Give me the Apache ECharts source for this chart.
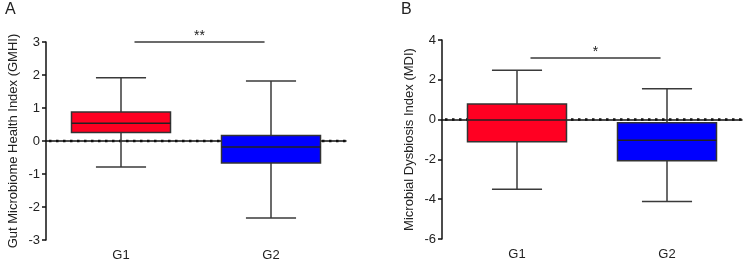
<!DOCTYPE html>
<html>
<head>
<meta charset="utf-8">
<script src="https://cdn.jsdelivr.net/npm/echarts@6/dist/echarts.min.js"></script>
<style>
html, body { margin: 0; padding: 0; background: #fff; }
#main { width: 744px; height: 262px; }
</style>
</head>
<body>
<div id="main"></div>
<script>
var categories = ['G1', 'G2'];
// [min, Q1, median, Q3, max]
var gmhiBoxes = [[-0.79, 0.26, 0.54, 0.88, 1.92], [-2.33, -0.67, -0.18, 0.17, 1.82]];
var mdiBoxes = [[-3.5, -1.11, -0.02, 0.79, 2.48], [-4.12, -2.07, -1.04, -0.16, 1.55]];
var boxColors = ['#ff0022', '#0000ff'];
// significance bars: [from category, to category, y value, label]
var gmhiSig = [[0.09, 0.957, 3.0, '**']];
var mdiSig = [[0.09, 0.957, 3.1, '*']];
var refLevel = [[0]];

var chart = echarts.init(document.getElementById('main'));
var font = 'Liberation Sans, Arial, sans-serif';

function renderBox(params, api) {
  var cat = api.value(0);
  var band = api.size([1, 0])[0];
  var x = api.coord([cat, 0])[0];
  var yMin = api.coord([cat, api.value(1)])[1];
  var yQ1 = api.coord([cat, api.value(2)])[1];
  var yMed = api.coord([cat, api.value(3)])[1];
  var yQ3 = api.coord([cat, api.value(4)])[1];
  var yMax = api.coord([cat, api.value(5)])[1];
  var hw = band * 0.33, cw = band * 0.167;
  var ln = { stroke: '#3a3a3a', lineWidth: 1.5 };
  return {
    type: 'group',
    children: [
      { type: 'line', shape: { x1: x, y1: yMax, x2: x, y2: yMin }, style: ln },
      { type: 'line', shape: { x1: x - cw, y1: yMax, x2: x + cw, y2: yMax }, style: ln },
      { type: 'line', shape: { x1: x - cw, y1: yMin, x2: x + cw, y2: yMin }, style: ln },
      { type: 'rect', shape: { x: x - hw, y: yQ3, width: hw * 2, height: yQ1 - yQ3 },
        style: { fill: boxColors[cat], stroke: '#333', lineWidth: 1.5 } },
      { type: 'line', shape: { x1: x - hw, y1: yMed, x2: x + hw, y2: yMed }, style: { stroke: '#222', lineWidth: 1.5 } }
    ]
  };
}

function renderSig(params, api) {
  var band = api.size([1, 0])[0];
  var y = api.coord([0, api.value(2)])[1];
  var x0 = api.coord([0, 0])[0] + api.value(0) * band;
  var x1 = api.coord([0, 0])[0] + api.value(1) * band;
  return {
    type: 'group',
    children: [
      { type: 'line', shape: { x1: x0, y1: y, x2: x1, y2: y }, style: { stroke: '#6b6b6b', lineWidth: 2 } },
      { type: 'text', x: (x0 + x1) / 2, y: y - 6,
        style: { text: api.value(3), fill: '#222', font: '14px ' + font, align: 'center', verticalAlign: 'middle' } }
    ]
  };
}

// dotted reference line at 0, drawn below the boxes
function renderRef(params, api) {
  var cs = params.coordSys;
  var y = api.coord([0, api.value(0)])[1];
  return {
    type: 'line',
    shape: { x1: cs.x + 3, y1: y, x2: cs.x + cs.width, y2: y },
    style: { stroke: '#111', lineWidth: 2.5, lineDash: [2.5, 4.5] }
  };
}

function boxData(arr) {
  return arr.map(function (b, i) { return [i].concat(b); });
}

function xAxis(gi) {
  return {
    type: 'category', gridIndex: gi, data: categories,
    axisLine: { lineStyle: { color: '#111', width: 1.5 } },
    axisTick: { alignWithLabel: true, length: 4, lineStyle: { color: '#111', width: 1.5 } },
    axisLabel: { color: '#222', fontSize: 13, fontFamily: font, margin: 9 },
    splitLine: { show: false }
  };
}

function yAxis(gi, min, max, interval, name, gap) {
  return {
    type: 'value', gridIndex: gi, min: min, max: max, interval: interval,
    name: name, nameLocation: 'middle', nameGap: gap, nameRotate: 90,
    nameTextStyle: { color: '#222', fontSize: 13, fontFamily: font },
    axisLine: { show: true, lineStyle: { color: '#111', width: 1.5 } },
    axisTick: { show: true, length: 4, lineStyle: { color: '#111', width: 1.5 } },
    axisLabel: { color: '#222', fontSize: 13, fontFamily: font, margin: 6 },
    splitLine: { show: false }
  };
}

var option = {
  animation: false,
  backgroundColor: '#fff',
  title: [
    { text: 'A', left: 0, top: -3, textStyle: { fontSize: 16, fontWeight: 'normal', color: '#222', fontFamily: font } },
    { text: 'B', left: 396, top: -3, textStyle: { fontSize: 16, fontWeight: 'normal', color: '#222', fontFamily: font } }
  ],
  grid: [
    { left: 46, top: 42, width: 300, height: 199 },
    { left: 442, top: 40, width: 300, height: 199 }
  ],
  xAxis: [xAxis(0), xAxis(1)],
  yAxis: [
    yAxis(0, -3, 3, 1, 'Gut Microbiome Health Index (GMHI)', 26),
    yAxis(1, -6, 4, 2, 'Microbial Dysbiosis Index (MDI)', 26)
  ],
  series: [
    { type: 'custom', xAxisIndex: 0, yAxisIndex: 0, zlevel: 0, z: 0, renderItem: renderRef, data: refLevel },
    { type: 'custom', xAxisIndex: 1, yAxisIndex: 1, zlevel: 0, z: 0, renderItem: renderRef, data: refLevel },
    { type: 'custom', xAxisIndex: 0, yAxisIndex: 0, zlevel: 1, renderItem: renderBox, data: boxData(gmhiBoxes) },
    { type: 'custom', xAxisIndex: 1, yAxisIndex: 1, zlevel: 1, renderItem: renderBox, data: boxData(mdiBoxes) },
    { type: 'custom', xAxisIndex: 0, yAxisIndex: 0, zlevel: 1, renderItem: renderSig, data: gmhiSig, clip: false },
    { type: 'custom', xAxisIndex: 1, yAxisIndex: 1, zlevel: 1, renderItem: renderSig, data: mdiSig, clip: false }
  ]
};
chart.setOption(option);
</script>
</body>
</html>
